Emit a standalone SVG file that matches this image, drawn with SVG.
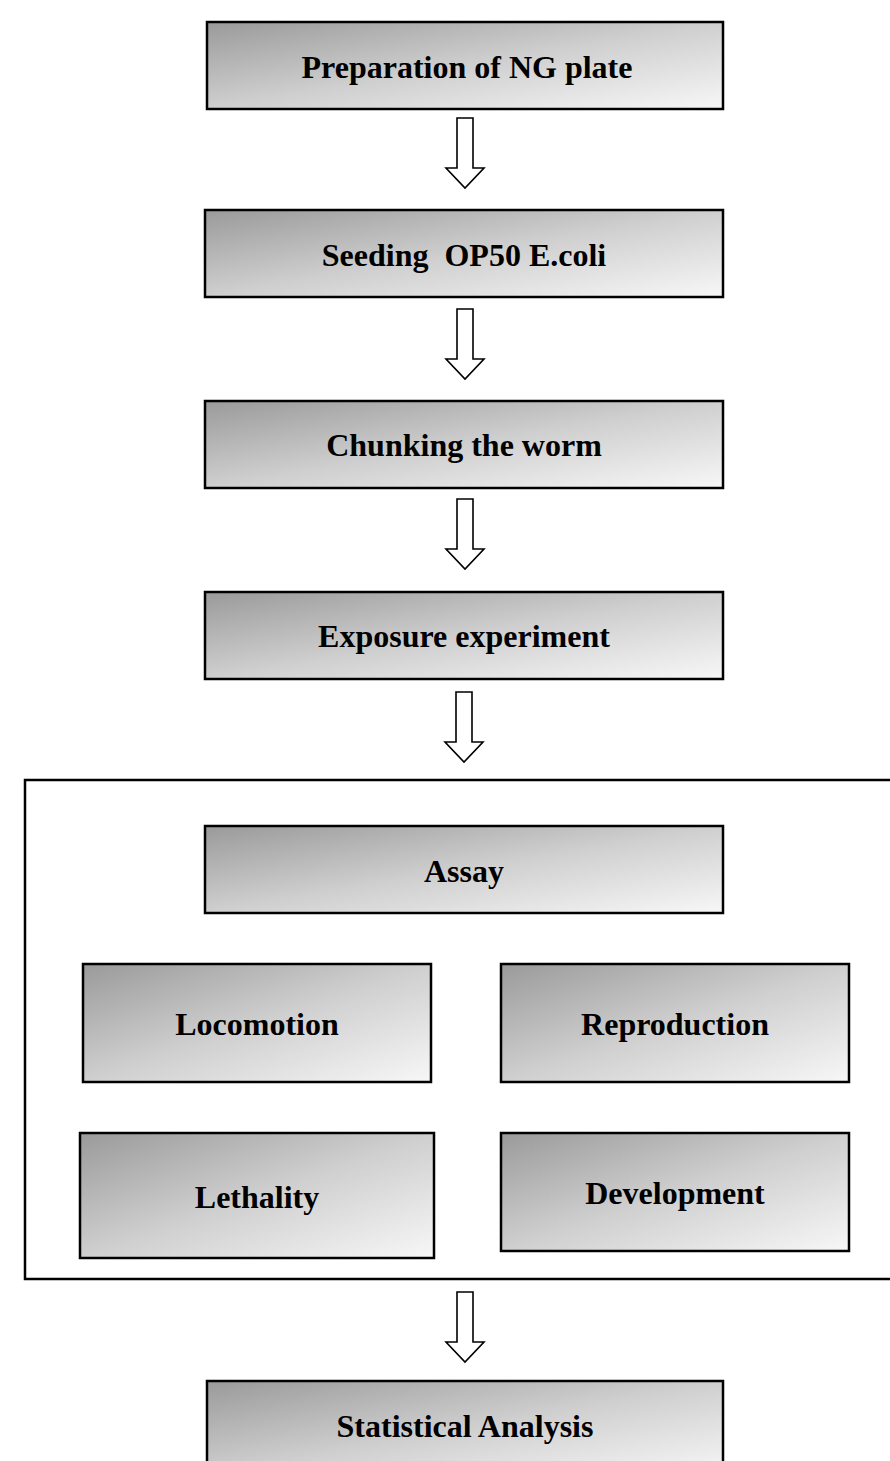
<svg xmlns="http://www.w3.org/2000/svg" width="890" height="1461" viewBox="0 0 890 1461">
<defs>
<linearGradient id="g" x1="0" y1="0" x2="1" y2="1">
<stop offset="0" stop-color="#9a9a9a"/>
<stop offset="0.5" stop-color="#cfcfcf"/>
<stop offset="1" stop-color="#f7f7f7"/>
</linearGradient>
<path id="arr" d="M-8,0 H8 V50 H19 L0,70 L-19,50 H-8 Z"/>
</defs>
<style>
.box{fill:url(#g);stroke:#000;stroke-width:2.5}
.t{font-family:"Liberation Serif","Times New Roman",serif;font-weight:bold;font-size:32px;text-anchor:middle;fill:#000;white-space:pre}
.a{fill:#fff;stroke:#000;stroke-width:1.6}
.c{fill:none;stroke:#000;stroke-width:2.5}
</style>
<rect width="890" height="1461" fill="#fff"/>
<g id="container"><path class="c" d="M892,780 H25 V1279 H892"/></g>
<g id="n1"><rect class="box" x="207" y="22" width="516" height="87"/><text class="t" x="467" y="78">Preparation of NG plate</text></g>
<g id="n2"><rect class="box" x="205" y="210" width="518" height="87"/><text class="t" x="464" y="266">Seeding  OP50 E.coli</text></g>
<g id="n3"><rect class="box" x="205" y="401" width="518" height="87"/><text class="t" x="464" y="456">Chunking the worm</text></g>
<g id="n4"><rect class="box" x="205" y="592" width="518" height="87"/><text class="t" x="464" y="647">Exposure experiment</text></g>
<g id="n5"><rect class="box" x="205" y="826" width="518" height="87"/><text class="t" x="464" y="882">Assay</text></g>
<g id="n6"><rect class="box" x="83" y="964" width="348" height="118"/><text class="t" x="257" y="1035">Locomotion</text></g>
<g id="n7"><rect class="box" x="501" y="964" width="348" height="118"/><text class="t" x="675" y="1035">Reproduction</text></g>
<g id="n8"><rect class="box" x="80" y="1133" width="354" height="125"/><text class="t" x="257" y="1208">Lethality</text></g>
<g id="n9"><rect class="box" x="501" y="1133" width="348" height="118"/><text class="t" x="675" y="1204">Development</text></g>
<g id="n10"><rect class="box" x="207" y="1381" width="516" height="95"/><text class="t" x="465" y="1437">Statistical Analysis</text></g>
<g id="connectors">
<use href="#arr" class="a" transform="translate(465,118)"/>
<use href="#arr" class="a" transform="translate(465,309)"/>
<use href="#arr" class="a" transform="translate(465,499)"/>
<use href="#arr" class="a" transform="translate(464,692)"/>
<use href="#arr" class="a" transform="translate(465,1292)"/>
</g>
</svg>
